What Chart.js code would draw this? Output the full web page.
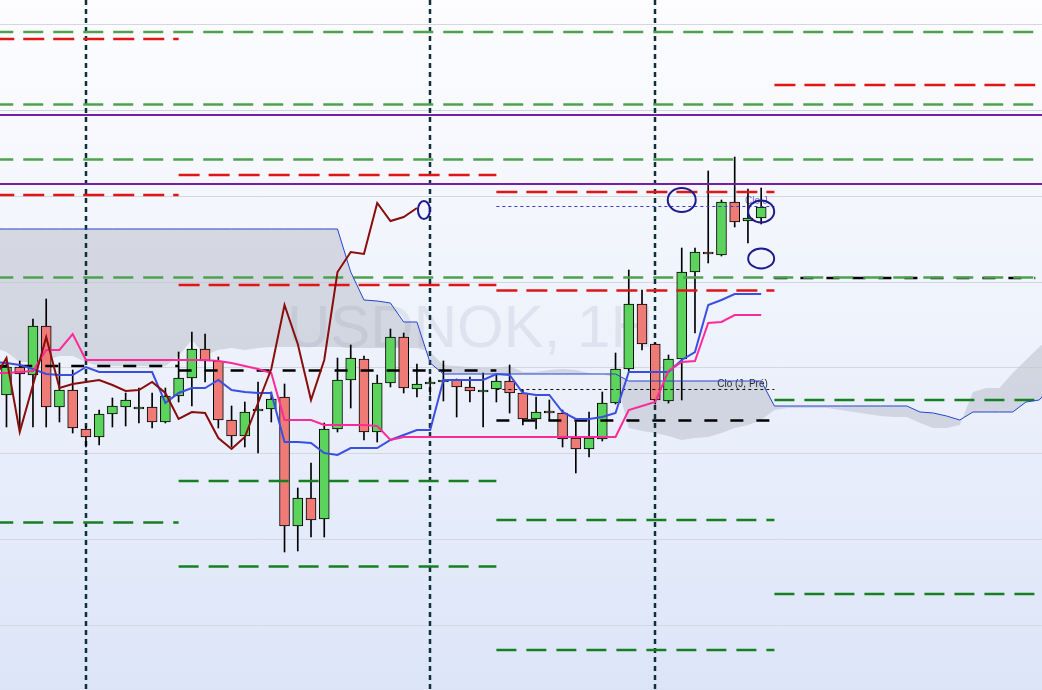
<!DOCTYPE html>
<html><head><meta charset="utf-8">
<script src="https://cdn.jsdelivr.net/npm/chart.js@4"></script>
<style>html,body{margin:0;padding:0;background:#fff}#wrap{width:1042px;height:690px;position:relative}</style>
</head><body><div id="wrap"><canvas id="c"></canvas></div>
<script>
// ---------- DATA ----------
const symbolLabel = 'USDNOK, 1H';
// hourly candles, index 0..57
const opens = [10.0590,10.0646,10.0630,10.0728,10.0566,10.0600,10.0522,10.0506,10.0552,10.0566,
 10.0562,10.0566,10.0536,10.0588,10.0624,10.0682,10.0658,10.0540,10.0508,10.0558,
 10.0562,10.0586,10.0328,10.0384,10.0342,10.0522,10.0620,10.0662,10.0516,10.0614,
 10.0706,10.0602,10.0612,10.0616,10.0620,10.0606,10.0596,10.0602,10.0618,10.0594,
 10.0542,10.0558,10.0554,10.0504,10.0482,10.0502,10.0574,10.0642,10.0772,10.0692,
 10.0578,10.0662,10.0836,10.0876,10.0870,10.0976,10.0938,10.0944];
const highs = [10.0656,10.0658,10.0742,10.0782,10.0654,10.0640,10.0528,10.0560,10.0584,10.0594,
 10.0604,10.0594,10.0604,10.0676,10.0716,10.0712,10.0666,10.0568,10.0576,10.0616,
 10.0596,10.0612,10.0404,10.0454,10.0534,10.0664,10.0690,10.0668,10.0630,10.0722,
 10.0714,10.0652,10.0626,10.0658,10.0622,10.0626,10.0634,10.0630,10.0650,10.0600,
 10.0586,10.0580,10.0560,10.0536,10.0556,10.0596,10.0674,10.0840,10.0800,10.0694,
 10.0670,10.0884,10.0884,10.1038,10.0980,10.1066,10.1002,10.1004];
const lows = [10.0526,10.0526,10.0526,10.0526,10.0536,10.0514,10.0486,10.0490,10.0526,10.0528,
 10.0534,10.0524,10.0534,10.0576,10.0568,10.0616,10.0524,10.0486,10.0486,10.0474,
 10.0536,10.0276,10.0278,10.0306,10.0306,10.0516,10.0564,10.0500,10.0496,10.0606,
 10.0594,10.0586,10.0590,10.0578,10.0546,10.0576,10.0526,10.0576,10.0554,10.0530,
 10.0522,10.0540,10.0486,10.0434,10.0466,10.0498,10.0572,10.0638,10.0680,10.0572,
 10.0574,10.0580,10.0714,10.0854,10.0868,10.0926,10.0894,10.0932];
const closes = [10.0646,10.0632,10.0728,10.0566,10.0600,10.0524,10.0506,10.0552,10.0568,10.0580,
 10.0566,10.0536,10.0588,10.0624,10.0682,10.0658,10.0540,10.0508,10.0556,10.0562,
 10.0582,10.0328,10.0384,10.0340,10.0522,10.0620,10.0664,10.0516,10.0614,10.0706,
 10.0604,10.0612,10.0616,10.0620,10.0606,10.0598,10.0600,10.0618,10.0594,10.0542,
 10.0556,10.0554,10.0502,10.0482,10.0504,10.0574,10.0642,10.0772,10.0692,10.0580,
 10.0662,10.0836,10.0876,10.0872,10.0976,10.0936,10.0944,10.0966];

// Ichimoku lines (first value sits at index -1)
const chikou = [10.0620,10.0664,10.0516,10.0610,10.0706,10.0604,10.0612,10.0616,10.0620,10.0610,10.0598,
 10.0600,10.0616,10.0594,10.0542,10.0556,10.0554,10.0504,10.0482,10.0506,10.0574,
 10.0642,10.0770,10.0692,10.0580,10.0660,10.0836,10.0876,10.0872,10.0974,10.0938,10.0946,10.0964];
const kijun = [10.0634,10.0634,10.0636,10.0638,10.0680,10.0680,10.0712,10.0660,10.0660,10.0660,
 10.0660,10.0660,10.0660,10.0660,10.0660,10.0660,10.0660,10.0658,10.0654,10.0648,
 10.0642,10.0634,10.0540,10.0540,10.0540,10.0530,10.0530,10.0530,10.0530,10.0528,
 10.0500,10.0506,10.0506,10.0506,10.0506,10.0506,10.0506,10.0506,10.0506,10.0506,
 10.0506,10.0506,10.0506,10.0506,10.0506,10.0506,10.0506,10.0506,10.0560,10.0568,
 10.0576,10.0638,10.0656,10.0658,10.0734,10.0736,10.0750,10.0750,10.0750];
const tenkan = [10.0656,10.0654,10.0650,10.0642,10.0632,10.0630,10.0630,10.0646,10.0636,10.0636,
 10.0636,10.0636,10.0636,10.0574,10.0594,10.0604,10.0604,10.0620,10.0600,10.0596,
 10.0594,10.0594,10.0496,10.0496,10.0494,10.0474,10.0470,10.0484,10.0484,10.0484,
 10.0500,10.0510,10.0520,10.0520,10.0620,10.0620,10.0620,10.0620,10.0632,10.0630,
 10.0594,10.0590,10.0590,10.0556,10.0542,10.0542,10.0546,10.0554,10.0636,10.0636,
 10.0636,10.0636,10.0660,10.0676,10.0770,10.0780,10.0792,10.0792,10.0792];
// cloud spans, index -1..79
const senkouA = [10.0922,10.0922,10.0922,10.0922,10.0922,10.0922,10.0922,10.0922,10.0922,10.0922,
 10.0922,10.0922,10.0922,10.0922,10.0922,10.0922,10.0922,10.0922,10.0922,10.0922,
 10.0922,10.0922,10.0922,10.0922,10.0922,10.0922,10.0922,10.0836,10.0780,10.0778,
 10.0774,10.0736,10.0736,10.0654,10.0632,10.0632,10.0632,10.0632,10.0632,10.0632,
 10.0632,10.0632,10.0632,10.0632,10.0632,10.0632,10.0632,10.0632,10.0618,10.0618,
 10.0618,10.0618,10.0618,10.0618,10.0618,10.0618,10.0618,10.0618,10.0618,10.0568,
 10.0568,10.0568,10.0568,10.0568,10.0568,10.0568,10.0568,10.0568,10.0568,10.0568,
 10.0556,10.0554,10.0548,10.0540,10.0556,10.0556,10.0556,10.0556,10.0576,10.0580,10.0610];
const senkouB = [10.0686,10.0676,10.0656,10.0656,10.0660,10.0668,10.0668,10.0656,10.0648,10.0648,
 10.0648,10.0648,10.0648,10.0648,10.0668,10.0700,10.0670,10.0680,10.0684,10.0680,
 10.0684,10.0686,10.0686,10.0686,10.0686,10.0686,10.0686,10.0684,10.0684,10.0684,
 10.0684,10.0684,10.0684,10.0676,10.0650,10.0648,10.0646,10.0644,10.0644,10.0648,
 10.0636,10.0636,10.0640,10.0642,10.0640,10.0634,10.0632,10.0624,10.0524,10.0518,
 10.0514,10.0508,10.0500,10.0504,10.0506,10.0514,10.0524,10.0530,10.0540,10.0560,
 10.0564,10.0564,10.0564,10.0564,10.0560,10.0556,10.0552,10.0548,10.0546,10.0546,
 10.0534,10.0524,10.0524,10.0530,10.0596,10.0604,10.0604,10.0634,10.0660,10.0686,10.0710];

// horizontal levels
const gridLevels = [10.1332,10.1160,10.0988,10.0816,10.0645,10.0474,10.0302,10.0130];
const fullGreenLevels = [10.1316,10.1171,10.1061,10.0825];
const purpleLevels = [10.1150,10.1012];
const segStarts = [-1,13,37,58];
const segEnds = [13,37,58,77.7];
const redLevels = [[10.1302,10.0990],[10.1030,10.0810],[10.0996,10.0799],[10.1210]];
const darkGreenLevels = [[10.0335],[10.0418,10.0247],[10.0340,10.0080],[10.0192,10.0580]];
const blackLevels = [10.0648,10.0639,10.0539,10.0824];
const refLabels = ['Clo (J, Pré)','Clo J'];
const refLevels = [10.0601,10.0967];
const refSegment = 2;
const verticalMarks = [6,32,49];
const markX = [31.53,51.0,57.0,57.0];
const markY = [10.0960,10.0980,10.0957,10.0863];

// ---------- STYLE ----------
const GREEN='#5cd35c', RED='#ee7b76';
const ellipseRadii=[[6,9],[14,12],[13,11],[13,10]];

const pts = (start, arr) => arr.map((v,k)=>({x:start+k, y:v}));
const datasets = [];
datasets.push({type:'line', data:pts(-1,senkouA), borderColor:'#2447cc', borderWidth:1, pointRadius:0, fill:false, order:10});
datasets.push({type:'line', data:pts(-1,senkouB), borderColor:'rgba(0,0,0,0)', borderWidth:0, pointRadius:0,
  fill:'-1', backgroundColor:'rgba(194,197,208,0.62)', order:100});
datasets.push({type:'bar', data:opens.map((o,i)=>({x:i,y:[lows[i],highs[i]]})), backgroundColor:'#000',
  barThickness:1, grouped:false, order:50});
datasets.push({type:'bar', data:opens.map((o,i)=>({x:i,y:[o,closes[i]]})),
  backgroundColor:opens.map((o,i)=>closes[i]>=o?GREEN:RED), borderColor:'#000', borderWidth:1,
  borderSkipped:false, barThickness:10, grouped:false, order:49});
function hLine(x0,x1,v,color,width,dash,order){
  datasets.push({type:'line', data:[{x:x0,y:v},{x:x1,y:v}], borderColor:color, borderWidth:width,
    borderDash:dash, pointRadius:0, fill:false, order:order});
}
fullGreenLevels.forEach(v=>hLine(-1,79,v,'#4ea24e',2.5,[20,10],20));
purpleLevels.forEach(v=>hLine(-1,79,v,'#7420a4',2,[],20));
segStarts.forEach((s,k)=>{
  redLevels[k].forEach(v=>hLine(s,segEnds[k],v,'#e01616',2.5,[21,9],20));
  darkGreenLevels[k].forEach(v=>hLine(s,segEnds[k],v,'#168020',2.5,[20,10],20));
  hLine(s,segEnds[k],blackLevels[k],'#000',2.5,[13,13],20);
});
hLine(segStarts[refSegment],segEnds[refSegment],refLevels[0],'#111',1,[3,3],20);
hLine(segStarts[refSegment],segEnds[refSegment],refLevels[1],'#3a3ad0',1,[3,3],20);
datasets.push({type:'line', data:pts(-1,chikou), borderColor:'#8a0c0c', borderWidth:2, pointRadius:0, fill:false, order:5});
datasets.push({type:'line', data:pts(-1,kijun), borderColor:'#ff2a98', borderWidth:2, pointRadius:0, fill:false, order:5});
datasets.push({type:'line', data:pts(-1,tenkan), borderColor:'#3a4ee4', borderWidth:2, pointRadius:0, fill:false, order:5});

const decor = {
  id:'decor',
  beforeDatasetsDraw(chart){
    const {ctx, chartArea:a, scales:{y}} = chart;
    ctx.save();
    const g = ctx.createLinearGradient(0,a.top,0,a.bottom);
    g.addColorStop(0,'#fdfdff'); g.addColorStop(0.45,'#eff3fc'); g.addColorStop(1,'#dce5f8');
    ctx.fillStyle=g; ctx.fillRect(a.left,a.top,a.width,a.height);
    ctx.strokeStyle='#d3d7e0'; ctx.lineWidth=1;
    gridLevels.forEach(v=>{const p=Math.round(y.getPixelForValue(v))+0.5; ctx.beginPath(); ctx.moveTo(a.left,p); ctx.lineTo(a.right,p); ctx.stroke();});
    ctx.restore();
  },
  afterDatasetDraw(chart,args){
    if(args.index!==1) return;
    const {ctx, chartArea:a, scales:{x,y}} = chart;
    ctx.save();
    ctx.font='60px "Liberation Sans", Arial, sans-serif';
    ctx.fillStyle='rgba(120,132,165,0.14)';
    ctx.textAlign='left'; ctx.textBaseline='alphabetic';
    ctx.fillText(symbolLabel,(a.left+a.right)/2-234,(a.top+a.bottom)/2+2);
    ctx.strokeStyle='#0f3038'; ctx.lineWidth=2.5; ctx.setLineDash([5,4]);
    verticalMarks.forEach(m=>{const p=Math.round(x.getPixelForValue(m)); ctx.beginPath(); ctx.moveTo(p,a.top); ctx.lineTo(p,a.bottom); ctx.stroke();});
    ctx.setLineDash([]);
    ctx.font='10px "Liberation Sans", Arial, sans-serif';
    ctx.textAlign='right'; ctx.textBaseline='alphabetic';
    const colors=['#2a2a2a','#7a68d8'];
    refLabels.forEach((t,k)=>{ctx.fillStyle=colors[k]; ctx.fillText(t,x.getPixelForValue(57.5),y.getPixelForValue(refLevels[k])-3);});
    ctx.restore();
  },
  afterDatasetsDraw(chart){
    const {ctx, scales:{x,y}} = chart;
    ctx.save(); ctx.strokeStyle='#1c1c8e'; ctx.lineWidth=2;
    markX.forEach((m,k)=>{ctx.beginPath(); ctx.ellipse(x.getPixelForValue(m),y.getPixelForValue(markY[k]),ellipseRadii[k][0],ellipseRadii[k][1],0,0,Math.PI*2); ctx.stroke();});
    ctx.restore();
  }
};

new Chart(document.getElementById('c'),{
  type:'bar',
  data:{datasets},
  options:{
    responsive:true, maintainAspectRatio:false, animation:false, events:[],
    layout:{padding:0},
    plugins:{legend:{display:false}, tooltip:{enabled:false}},
    scales:{
      x:{type:'linear', min:-0.49, max:78.21, offset:false, display:false},
      y:{type:'linear', min:10.0, max:10.138, display:false}
    }
  },
  plugins:[decor]
});
</script></body></html>
